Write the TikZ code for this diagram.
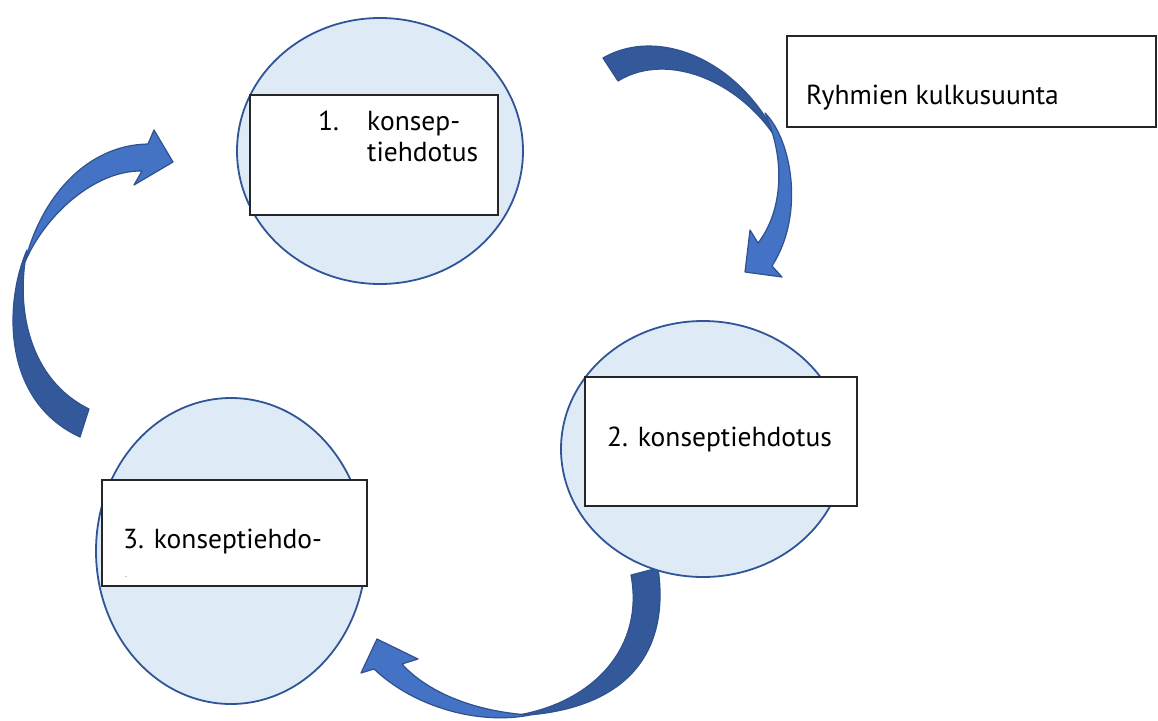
\documentclass[tikz,border=0pt]{standalone}
\usepackage{fontspec}
\setmainfont{PT Sans}
\usetikzlibrary{shapes.geometric}
\definecolor{ribbonlight}{RGB}{68,114,196}
\definecolor{ribbondark}{RGB}{51,89,154}
\definecolor{ribbonedge}{RGB}{47,82,143}
\definecolor{discfill}{RGB}{222,234,246}
\definecolor{discedge}{RGB}{47,85,151}
\tikzset{
  lightpart/.style={fill=ribbonlight, draw=ribbonedge, line width=1.2pt, line join=round},
  darkpart/.style={fill=ribbondark, draw=ribbonedge, line width=1.2pt, line join=round},
  disc/.style={ellipse, fill=discfill, draw=discedge, line width=1.8pt, inner sep=0pt},
  panel/.style={rectangle, fill=white, draw=black!85, line width=1.3pt, inner sep=0pt},
  label/.style={inner sep=0pt, anchor=base west, font=\fontsize{27.5}{33}\selectfont}
}
\begin{document}
\begin{tikzpicture}[x=1pt, y=-1pt]
\useasboundingbox (0,0) rectangle (1158,720);

% curved ribbon arrow: top right, from circle 1 towards circle 2
\path[darkpart] (603,58) .. controls (660,25) and (745,62) .. (782,148)
  .. controls (745,82) and (668,50) .. (618,81) -- cycle;
\path[lightpart] (765,113) .. controls (792,140) and (805,215) .. (772,266)
  -- (782,277) -- (745,272) -- (750,230) -- (758,243)
  .. controls (780,215) and (788,165) .. (765,113) -- cycle;

% curved ribbon arrow: bottom, from circle 2 towards circle 3
\path[darkpart] (658,568) .. controls (670,650) and (630,712) .. (512,716)
  .. controls (590,705) and (645,650) .. (631,575) -- cycle;
\path[lightpart] (530,715) .. controls (480,725) and (415,708) .. (374,669)
  -- (361,673) -- (377,639) -- (418,659) -- (402,664)
  .. controls (430,695) and (480,712) .. (530,715) -- cycle;

% curved ribbon arrow: left, from circle 3 towards circle 1
\path[darkpart] (27,250) .. controls (5,300) and (0,400) .. (80,437)
  -- (89,409) .. controls (30,380) and (15,310) .. (27,250) -- cycle;
\path[lightpart] (25,262) .. controls (40,200) and (85,145) .. (148,144)
  -- (154,130) -- (173,162) -- (134,185) -- (142,171)
  .. controls (95,170) and (45,215) .. (25,262) -- cycle;

% concept circles
\node[disc, minimum width=286pt, minimum height=266pt] (c1) at (380,151) {};
\node[disc, minimum width=284pt, minimum height=256pt] (c2) at (703,449) {};
\node[disc, minimum width=270pt, minimum height=306pt] (c3) at (231,551) {};

% text panels
\node[panel, minimum width=248pt, minimum height=120pt] (p1) at (374,155) {};
\node[panel, minimum width=272pt, minimum height=129pt] (p2) at (721,441.5) {};
\node[panel, minimum width=265pt, minimum height=106pt] (p3) at (234.5,533) {};
\node[panel, minimum width=369pt, minimum height=91pt] (p4) at (971.5,81.5) {};

% panel texts
\node[label] (n1) at (318,130) {1.};
\node[label] (t1a) at (367,130) {konsep-};
\node[label] (t1b) at (367,161) {tiehdotus};
\node[label] (t2) at (607,446) {2. konseptiehdotus};
\node[label] (t3) at (123,548) {3. konseptiehdo-};
\node[inner sep=0pt, anchor=base west, font=\fontsize{5}{6}\selectfont] (t3b) at (125,578) {-};
\node[label] (t4) at (806,104) {Ryhmien kulkusuunta};
\end{tikzpicture}
\end{document}
